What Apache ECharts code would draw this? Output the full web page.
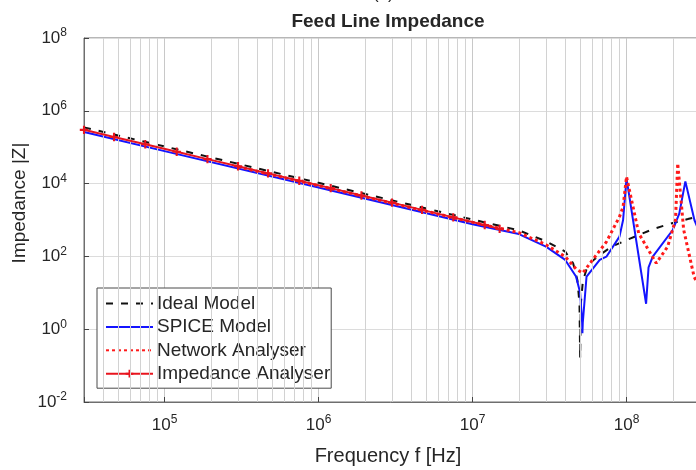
<!DOCTYPE html>
<html>
<head>
<meta charset="utf-8">
<script src="https://cdn.jsdelivr.net/npm/echarts@6/dist/echarts.min.js"></script>
<style>
  html, body { margin: 0; padding: 0; background: #fff; }
  #chart { width: 696px; height: 470px; }
</style>
</head>
<body>
<div id="chart"></div>
<script>
// Feed line impedance magnitude versus frequency, log-log.
// Each series is a list of [frequency in Hz, |Z| in ohms].

const seriesNames = ['Ideal Model', 'SPICE Model', 'Network Analyser', 'Impedance Analyser'];

const idealModel = [
  [3e4, 3.5e5], [1e5, 1.05e5], [1e6, 1.05e4], [1e7, 1.03e3], [2e7, 520],
  [3e7, 260], [4e7, 135], [4.5e7, 65], [4.8e7, 22], [4.95e7, 5],
  [5e7, 0.16], [5.05e7, 5], [5.2e7, 20], [5.5e7, 45], [6e7, 75],
  [7e7, 125], [8e7, 185], [1e8, 280], [1.5e8, 570], [2e8, 830],
  [2.5e8, 1060], [3e8, 1300]
];

const spiceModel = [
  [3e4, 2.6e5], [1e5, 7.8e4], [1e6, 7.8e3], [1e7, 760], [2e7, 410],
  [3e7, 185], [4e7, 80], [4.7e7, 28], [5e7, 10], [5.15e7, 1.5],
  [5.17e7, 0.78], [5.2e7, 1.5], [5.5e7, 28], [6.7e7, 80], [7.4e7, 98],
  [9e7, 350], [9.5e7, 1000], [1e8, 1.4e4], [1.34e8, 5], [1.39e8, 50],
  [1.48e8, 98], [2e8, 540], [2.2e8, 1500], [2.41e8, 1.15e4], [2.76e8, 1000],
  [3e8, 420]
];

const networkAnalyser = [
  [3e5, 2.9e4], [1e6, 8.8e3], [3e6, 2.9e3], [1e7, 870], [2e7, 450],
  [3e7, 210], [4e7, 98], [4.7e7, 45], [5.2e7, 35], [5.8e7, 65],
  [7.4e7, 250], [9e7, 1230], [9.5e7, 2300], [1e8, 1.55e4], [1.2e8, 430],
  [1.56e8, 65], [1.85e8, 186], [2.08e8, 1000], [2.15e8, 3.6e4], [2.35e8, 540],
  [2.75e8, 27], [3e8, 14]
];

const impedanceAnalyser = [
  [3e4, 3.0e5], [4.7e4, 1.91e5], [7.5e4, 1.2e5], [1.2e5, 7.5e4], [1.9e5, 4.7e4],
  [3e5, 3.0e4], [4.7e5, 1.91e4], [7.5e5, 1.2e4], [1.2e6, 7.5e3], [1.9e6, 4.7e3],
  [3e6, 3.0e3], [4.7e6, 1.9e3], [7.5e6, 1.18e3], [1.2e7, 730], [1.5e7, 570]
];

// Axis extents
const freqRange = [3e4, 3e8];
const impedanceRange = [1e-2, 1e8];

// Minor vertical grid at 2..9 x each decade
const minorGridFreqs = [];
for (let d = 4; d <= 8; d++) {
  for (let m = 2; m <= 9; m++) {
    const f = m * Math.pow(10, d);
    if (f > freqRange[0] && f < freqRange[1]) minorGridFreqs.push(f);
  }
}

const FONT = '"Liberation Sans", Arial, Helvetica, sans-serif';
const TEXT = '#262626';
const AXIS = '#6e6e6e';
const GRID = '#d2d2d2';

function powLabel(v) {
  const e = Math.round(Math.log10(v));
  if (Math.abs(Math.log10(v) - e) > 1e-6) return '';
  return '{b|10}{s|' + e + '}';
}
const powRich = {
  b: { fontSize: 17, fontFamily: FONT, color: TEXT },
  s: { fontSize: 12, fontFamily: FONT, color: TEXT, padding: [0, 0, 10, 0] }
};

// small "+" marker; the two corner specks widen the box so the cross stays small
const plusIcon = 'path://M0,0h0.01v0.01h-0.01z M20,20h0.01v0.01h-0.01z M8.5,4h3v4.5h4.5v3h-4.5v4.5h-3v-4.5h-4.5v-3h4.5z';

const chart = echarts.init(document.getElementById('chart'), null, { renderer: 'canvas' });

chart.setOption({
  animation: false,
  backgroundColor: '#ffffff',
  title: {
    text: 'Feed Line Impedance',
    left: 383, top: 7, textAlign: 'center',
    textStyle: { fontFamily: FONT, fontSize: 19, fontWeight: 'bold', color: TEXT }
  },
  graphic: [
    { type: 'text', left: 373, top: -14,
      style: { text: '(a)', font: '17px ' + FONT, fill: TEXT } },
    { type: 'text', x: 20, y: 203, rotation: Math.PI / 2,
      style: { text: 'Impedance |Z|', font: '19px ' + FONT, fill: TEXT,
               textAlign: 'center', textVerticalAlign: 'middle' } }
  ],
  grid: {
    left: 84, top: 38, width: 616, height: 364,
    outerBoundsMode: 'none', containLabel: false,
    show: true, borderColor: AXIS, borderWidth: 1, backgroundColor: '#fff'
  },
  legend: {
    orient: 'vertical',
    left: 97, top: 288,
    data: [
      { name: seriesNames[0], itemStyle: { opacity: 0 } },
      { name: seriesNames[1], itemStyle: { opacity: 0 } },
      { name: seriesNames[2], itemStyle: { opacity: 0 } },
      { name: seriesNames[3] }
    ],
    backgroundColor: '#fff',
    borderColor: '#4a4a4a', borderWidth: 1, borderRadius: 0,
    padding: [6, 1, 5, 8],
    itemWidth: 47, itemHeight: 16, itemGap: 4.4,
    textStyle: { fontFamily: FONT, fontSize: 19, lineHeight: 16, color: TEXT, padding: [0, 0, 0, -1] }
  },
  xAxis: {
    type: 'log', logBase: 10,
    min: freqRange[0], max: freqRange[1],
    name: 'Frequency f [Hz]', nameLocation: 'middle', nameGap: 44,
    nameTextStyle: { fontFamily: FONT, fontSize: 20, color: TEXT, padding: [0, 8, 0, 0] },
    axisLine: { show: true, lineStyle: { color: AXIS } },
    axisTick: { show: true, inside: true, length: 5, lineStyle: { color: '#444' } },
    axisLabel: { formatter: powLabel, rich: powRich, margin: 12 },
    splitLine: { show: true, lineStyle: { color: '#c8c8c8', width: 1 } },
    minorTick: { show: false }, minorSplitLine: { show: false }
  },
  yAxis: {
    type: 'log', logBase: 10,
    min: impedanceRange[0], max: impedanceRange[1], interval: 2,
    axisLine: { show: true, lineStyle: { color: AXIS } },
    axisTick: { show: true, inside: true, length: 5, lineStyle: { color: '#444' } },
    axisLabel: { formatter: powLabel, rich: powRich, margin: 17 },
    splitLine: { show: true, lineStyle: { color: '#dcdcdc', width: 1 } },
    minorTick: { show: false }, minorSplitLine: { show: false }
  },
  series: [
    {
      name: 'grid-minor', type: 'line', data: [], z: 1, silent: true,
      markLine: {
        silent: true, symbol: ['none', 'none'], animation: false,
        label: { show: false },
        lineStyle: { color: GRID, width: 1, type: 'solid' },
        data: minorGridFreqs.map(f => ({ xAxis: f }))
      }
    },
    {
      name: seriesNames[0], type: 'line', data: idealModel, z: 3,
      showSymbol: false, symbol: 'none',
      lineStyle: { color: '#111111', width: 2, type: [7, 8] },
      itemStyle: { color: '#111111' }
    },
    {
      name: seriesNames[1], type: 'line', data: spiceModel, z: 4,
      showSymbol: false, symbol: 'none',
      lineStyle: { color: '#1414ff', width: 2 },
      itemStyle: { color: '#1414ff' }
    },
    {
      name: seriesNames[2], type: 'line', data: networkAnalyser, z: 5,
      showSymbol: false, symbol: 'none',
      lineStyle: { color: '#ff1a1a', width: 3, type: [3, 3] },
      itemStyle: { color: '#ff1a1a' }
    },
    {
      name: seriesNames[3], type: 'line', data: impedanceAnalyser, z: 6,
      symbol: plusIcon, symbolSize: 14, showSymbol: true, symbolKeepAspect: true,
      lineStyle: { color: '#e8141e', width: 2 },
      itemStyle: { color: '#e8141e' }
    }
  ]
});
</script>
</body>
</html>
